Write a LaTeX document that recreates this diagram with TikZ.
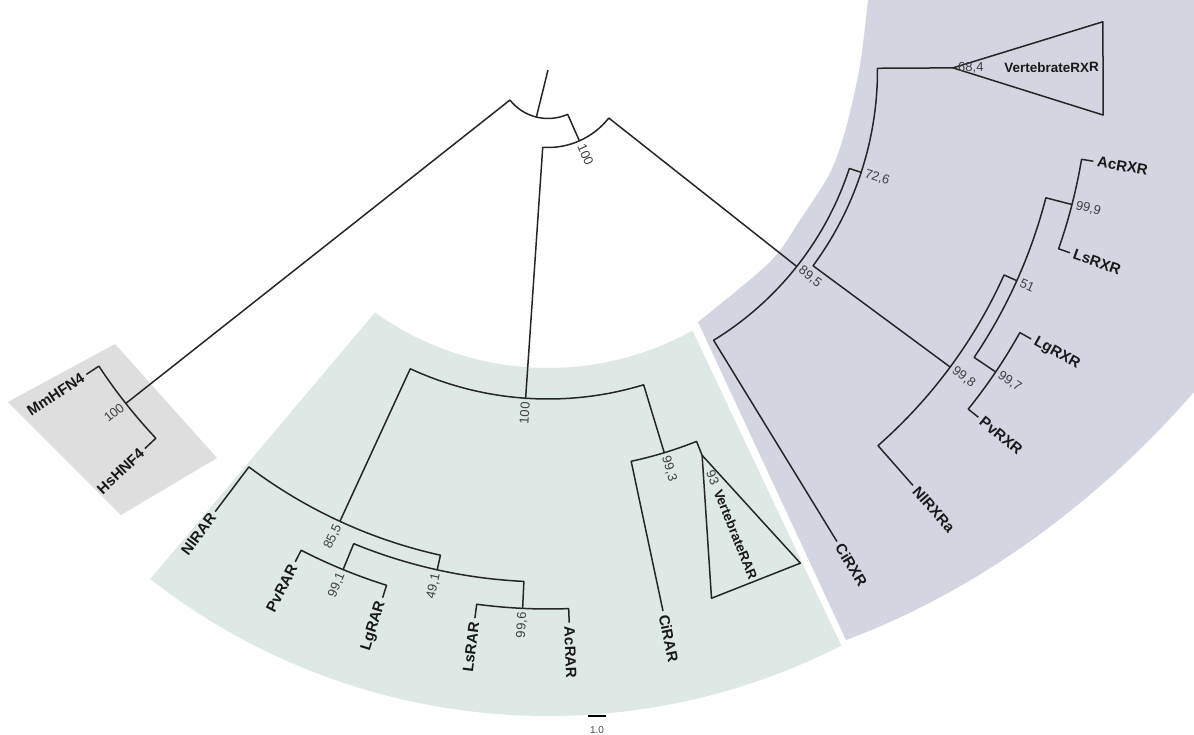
\documentclass[tikz,border=0pt]{standalone}
\usepackage{fontspec}
\setmainfont{Liberation Sans}
\usetikzlibrary{calc}
\definecolor{rarbg}{HTML}{DEE8E4}
\definecolor{rxrbg}{HTML}{D3D6E1}
\definecolor{hnfbg}{HTML}{DEDEDE}
\begin{document}
\begin{tikzpicture}[x=1pt,y=1pt,
  branch/.style={line width=1.5pt, draw=black!85, line join=round},
  tipname/.style={font=\fontsize{15}{15}\selectfont\bfseries, inner sep=0pt, text=black!90},
  cladename/.style={font=\fontsize{13.5}{13.5}\selectfont\bfseries, inner sep=0pt, text=black!90},
  supp/.style={font=\fontsize{13}{13}\selectfont, inner sep=0pt, text=black!75},
]
\useasboundingbox (0,0) rectangle (1194,-735);
\fill[white] (0,0) rectangle (1194,-735);

% shaded clade backgrounds
\fill[hnfbg] (8,-402) -- (115,-344) -- (217,-458) -- (121,-515) -- cycle;
\fill[rxrbg] plot[smooth] coordinates {(698,-322) (770,-262) (800,-220) (830,-173) (846,-128) (860,-65) (868,0)}
  -- (1194,0) -- (1194,-392) .. controls (1100,-500) and (980,-590) .. (846,-640) -- cycle;

\begin{scope}[shift={(548,-70)}]
\fill[rarbg] (-125.5:298) arc[start angle=-125.5, end angle=-61, radius=298]
  -- (-63:646) arc[start angle=-63, end angle=-128, radius=646] -- cycle;

% tips
\coordinate (Lmm) at (-146.6:553);
\coordinate (Lhs) at (-136.8:553);
\coordinate (Lnlrar) at (-127.0:553);
\coordinate (Lpvrar) at (-117.2:553);
\coordinate (Llgrar) at (-107.4:553);
\coordinate (Llsrar) at (-97.6:553);
\coordinate (Lacrar) at (-87.8:553);
\coordinate (Lcirar) at (-78.0:553);
\coordinate (Lcirxr) at (-58.5:553);
\coordinate (Lnlrxr) at (-48.7:553);
\coordinate (Lpvrxr) at (-38.9:553);
\coordinate (Llgrxr) at (-29.1:553);
\coordinate (Llsrxr) at (-19.3:553);
\coordinate (Lacrxr) at (-9.5:553);
\coordinate (vrA) at (-68.2:415);
\coordinate (vxA) at (0.3:405);

% internal nodes
\coordinate (ctr) at (0,0);
\coordinate (nroot) at (-103.9:48.5);
\coordinate (nhnf) at (-141.7:538);
\coordinate (n991) at (-112.3:540);
\coordinate (n996) at (-92.7:539);
\coordinate (n491) at (-102.5:512);
\coordinate (n855) at (-114.75:497);
\coordinate (n993) at (-73.1:400);
\coordinate (nrar) at (-93.9:329);
\coordinate (n997) at (-34.0:540);
\coordinate (n999) at (-14.4:541);
\coordinate (n51) at (-24.2:514);
\coordinate (n998) at (-36.45:500);
\coordinate (n726) at (-18.1:329.5);
\coordinate (n895) at (-38.3:317);
\coordinate (nin) at (-66.1:77.5);

% branches
\draw[branch] (ctr) -- (nroot);
\draw[branch] (nhnf) -- (-141.7:48.5) arc[start angle=-141.7, end angle=-66.1, radius=48.5] -- (nin);
\draw[branch] (Lmm) -- (-146.6:538) arc[start angle=-146.6, end angle=-136.8, radius=538] -- (Lhs);
\draw[branch] (nrar) -- (-93.9:77.5) arc[start angle=-93.9, end angle=-38.3, radius=77.5] -- (n895);
\draw[branch] (n855) -- (-114.75:329) arc[start angle=-114.75, end angle=-73.1, radius=329] -- (n993);
\draw[branch] (Lnlrar) -- (-127:497) arc[start angle=-127, end angle=-102.5, radius=497] -- (n491);
\draw[branch] (n991) -- (-112.3:512) arc[start angle=-112.3, end angle=-92.7, radius=512] -- (n996);
\draw[branch] (Lpvrar) -- (-117.2:540) arc[start angle=-117.2, end angle=-107.4, radius=540] -- (Llgrar);
\draw[branch] (Llsrar) -- (-97.6:539) arc[start angle=-97.6, end angle=-87.8, radius=539] -- (Lacrar);
\draw[branch] (Lcirar) -- (-78:400) arc[start angle=-78, end angle=-68.2, radius=400] -- (vrA);
\draw[branch] (vrA) -- (-72.8:553) -- (-62.9:554) -- cycle;
\draw[branch] (Lcirxr) -- (-58.5:317) arc[start angle=-58.5, end angle=-18.1, radius=317] -- (n726);
\draw[branch] (n998) -- (-36.45:329.5) arc[start angle=-36.45, end angle=0.3, radius=329.5] -- (vxA);
\draw[branch] (vxA) -- (4.97:557) -- (-4.64:557) -- cycle;
\draw[branch] (Lnlrxr) -- (-48.7:500) arc[start angle=-48.7, end angle=-24.2, radius=500] -- (n51);
\draw[branch] (n997) -- (-34:514) arc[start angle=-34, end angle=-14.4, radius=514] -- (n999);
\draw[branch] (Lpvrxr) -- (-38.9:540) arc[start angle=-38.9, end angle=-29.1, radius=540] -- (Llgrxr);
\draw[branch] (Llsrxr) -- (-19.3:541) arc[start angle=-19.3, end angle=-9.5, radius=541] -- (Lacrxr);

% tip names
\node[tipname, anchor=east, rotate=33.4] at (-146.6:557) {MmHFN4};
\node[tipname, anchor=east, rotate=43.2] at (-136.8:557) {HsHNF4};
\node[tipname, anchor=east, rotate=53.0] at (-127.0:557) {NlRAR};
\node[tipname, anchor=east, rotate=62.8] at (-117.2:557) {PvRAR};
\node[tipname, anchor=east, rotate=72.6] at (-107.4:557) {LgRAR};
\node[tipname, anchor=east, rotate=82.4] at (-97.6:557) {LsRAR};
\node[tipname, anchor=west, rotate=-87.8] at (-87.8:557) {AcRAR};
\node[tipname, anchor=west, rotate=-78.0] at (-78.0:557) {CiRAR};
\node[cladename, anchor=east, rotate=-68.0] at (-68.0:549) {VertebrateRAR};
\node[tipname, anchor=west, rotate=-58.5] at (-58.5:557) {CiRXR};
\node[tipname, anchor=west, rotate=-48.7] at (-48.7:557) {NlRXRa};
\node[tipname, anchor=west, rotate=-38.9] at (-38.9:557) {PvRXR};
\node[tipname, anchor=west, rotate=-29.1] at (-29.1:557) {LgRXR};
\node[tipname, anchor=west, rotate=-19.3] at (-19.3:557) {LsRXR};
\node[tipname, anchor=west, rotate=-9.5] at (-9.5:557) {AcRXR};
\node[cladename, anchor=east, rotate=0.3] at (0.3:551) {VertebrateRXR};

% support values
\node[supp, anchor=east, rotate=38.3] at (-141.7:542) {100};
\node[supp, anchor=east, rotate=65.25] at (-114.75:501) {85,5};
\node[supp, anchor=east, rotate=67.7] at (-112.3:544) {99,1};
\node[supp, anchor=east, rotate=77.5] at (-102.5:516) {49,1};
\node[supp, anchor=east, rotate=87.3] at (-92.7:543) {99,6};
\node[supp, anchor=east, rotate=86.1] at (-93.9:333) {100};
\node[supp, anchor=west, rotate=-73.1] at (-73.1:404) {99,3};
\node[supp, anchor=center, rotate=-68.0] at (-68.0:440) {93};
\node[supp, anchor=west, rotate=-66.1] at (-66.1:81.5) {100};
\node[supp, anchor=west, rotate=-38.3] at (-38.3:321) {89,5};
\node[supp, anchor=west, rotate=-18.1] at (-18.1:333.5) {72,6};
\node[supp, anchor=west, rotate=0.3] at (0.3:410) {68,4};
\node[supp, anchor=west, rotate=-36.45] at (-36.45:504) {99,8};
\node[supp, anchor=west, rotate=-24.2] at (-24.2:518) {51};
\node[supp, anchor=west, rotate=-34] at (-34:544) {99,7};
\node[supp, anchor=west, rotate=-14.4] at (-14.4:545) {99,9};
\end{scope}

% scale bar
\coordinate (sbL) at (588,-716);
\coordinate (sbR) at (606,-716);
\draw[line width=2pt] (sbL) -- (sbR);
\node[font=\fontsize{10}{10}\selectfont, inner sep=0pt, text=black!70] (sblab) at ($(sbL)!0.5!(sbR)+(0,-14)$) {1.0};
\end{tikzpicture}
\end{document}
